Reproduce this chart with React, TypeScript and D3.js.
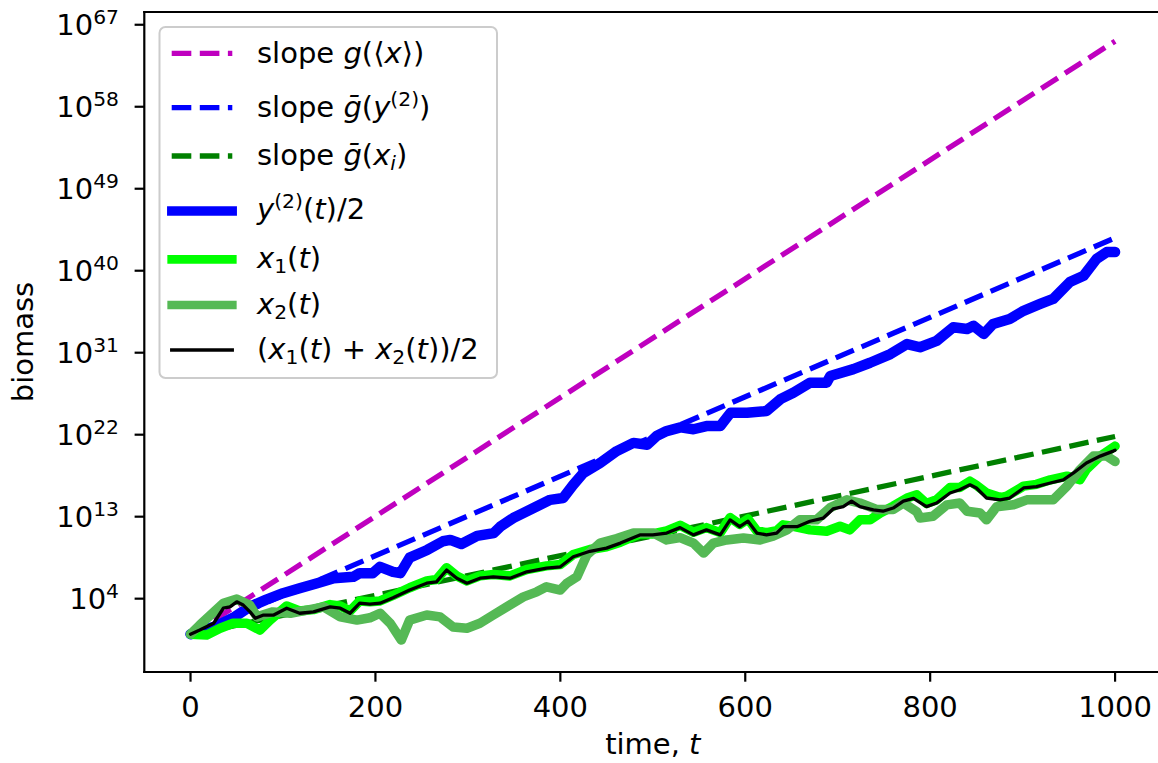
import React from "react";
import * as d3 from "d3";

// ---------- data (time t, exponent log10(biomass)) ----------
const slopeTime = [0, 1000];
const slopeG = [0, 65.2]; // slope g(<x>)
const slopeGbarY = [0, 43.6]; // slope gbar(y2)
const slopeGbarX = [0, 21.8]; // slope gbar(x_i)

const y2Time = [0, 28, 46, 64, 82, 100, 118, 137, 155, 176, 183, 197, 205, 219, 227, 237, 256, 273, 281, 293, 310, 328, 335, 349, 371, 389, 403, 414, 425, 443, 461, 479, 494, 504, 515, 530, 544, 558, 573, 584, 602, 623, 638, 652, 670, 688, 692, 717, 735, 757, 775, 789, 807, 825, 840, 847, 858, 868, 886, 901, 919, 933, 951, 966, 980, 991, 1000];
const y2Exp = [0.1, 1.0, 1.9, 3.1, 3.9, 4.6, 5.15, 5.7, 6.25, 6.4, 6.8, 6.8, 7.5, 6.95, 6.8, 8.5, 9.35, 10.3, 10.45, 10.0, 10.9, 11.2, 11.9, 12.85, 13.95, 14.85, 15.05, 16.5, 17.8, 18.9, 20.2, 21.1, 20.9, 21.85, 22.4, 22.8, 22.6, 22.95, 22.95, 24.4, 24.4, 24.6, 25.9, 26.6, 27.7, 27.7, 28.45, 29.2, 29.9, 30.85, 31.95, 31.6, 32.3, 33.8, 33.6, 33.95, 33.05, 34.15, 34.7, 35.6, 36.35, 36.9, 38.75, 39.45, 41.3, 42.05, 42.05];

const x1Time = [0, 17.5, 32, 46, 61, 75, 86, 97, 104, 118, 133, 151, 162, 172.5, 183, 194, 205, 219, 237, 255.5, 266, 277, 288, 299, 313, 327.5, 345.6, 363.7, 385, 400, 414, 432, 450, 465, 486, 500, 515, 529.5, 544, 558, 573, 583.6, 594, 603, 612.5, 623, 634, 641, 652, 670, 688, 702.5, 713, 724, 735, 746, 760, 775, 785.5, 796, 807, 821.5, 832, 843, 850, 861, 876, 883, 901, 915, 930, 948, 962, 969, 984, 1000];
const x1Exp = [0.1, 0.0, 0.75, 1.3, 1.3, 0.55, 1.65, 2.6, 3.2, 2.65, 2.8, 3.35, 3.2, 2.65, 3.75, 3.65, 3.75, 4.35, 5.2, 5.95, 6.1, 7.4, 6.5, 5.95, 6.5, 6.65, 6.5, 7.2, 7.6, 7.75, 8.85, 9.4, 9.7, 10.2, 11.1, 11.1, 11.45, 12.05, 11.3, 11.8, 11.25, 12.9, 12.15, 12.75, 11.45, 11.25, 11.45, 12.1, 11.95, 11.55, 11.4, 11.95, 11.55, 12.65, 12.65, 13.4, 14.15, 15.05, 15.4, 14.45, 14.85, 16.2, 16.2, 16.9, 16.45, 15.6, 15.1, 15.25, 16.35, 16.55, 17.05, 17.45, 17.05, 18.2, 19.65, 20.75];

const x2Time = [0, 10, 35.5, 50, 64, 72, 89, 108, 126, 144, 162, 180, 194, 205, 216, 228, 237, 255.5, 270, 284, 299, 313, 327.5, 342, 360, 374.5, 385, 400, 407, 418, 428.6, 443, 461, 479, 500.6, 515, 529.5, 544, 555, 565.5, 580, 598, 616, 630, 645, 659, 677, 692, 710, 724, 742, 760, 771, 785.5, 789, 803, 818, 832, 840, 854, 861, 872, 890, 904.5, 919, 933, 948, 962, 976.6, 991, 1000];
const x2Exp = [0.1, 1.1, 3.5, 3.95, 3.3, 2.0, 2.55, 2.4, 2.75, 3.1, 2.0, 1.65, 1.9, 2.4, 1.3, -0.55, 1.65, 2.2, 2.0, 0.9, 0.75, 1.3, 2.2, 3.1, 4.2, 4.75, 5.3, 4.95, 5.7, 6.4, 8.8, 10.1, 10.6, 11.2, 11.2, 10.45, 10.7, 10.1, 9.0, 10.1, 10.45, 10.65, 10.45, 10.85, 11.55, 12.65, 12.65, 14.0, 14.85, 14.5, 13.8, 13.8, 14.5, 13.55, 12.85, 13.05, 14.3, 14.5, 13.6, 13.4, 12.65, 14.1, 14.3, 14.85, 14.85, 14.85, 16.35, 18.15, 19.65, 19.65, 19.05];

const meanTime = [0, 10, 25, 35.5, 42.7, 50, 57, 64.4, 70, 79, 90, 104, 118, 133, 151, 162, 172.5, 183, 194, 205, 219, 237, 255.5, 266, 277, 288, 299, 313, 327.5, 345.6, 363.7, 385, 400, 414, 432, 450, 465, 486, 500, 515, 529.5, 544, 558, 573, 583.6, 594, 603, 612.5, 623, 634, 641, 656, 670, 684.5, 695, 706, 715, 724, 738.6, 749, 760, 771, 782, 796, 807, 821.5, 832, 843, 850, 861, 875.6, 886, 901, 915, 930, 944, 955, 969, 984, 998, 1000];
const meanExp = [0.1, 0.55, 1.3, 2.95, 3.1, 3.65, 3.3, 2.55, 1.85, 2.2, 2.2, 2.95, 2.4, 2.55, 3.1, 2.95, 2.4, 3.5, 3.4, 3.5, 4.1, 4.95, 5.7, 5.85, 7.15, 6.25, 5.7, 6.25, 6.4, 6.25, 6.95, 7.35, 7.5, 8.6, 9.2, 9.55, 10.1, 11.0, 11.0, 11.2, 11.8, 11.0, 11.55, 11.0, 12.65, 11.9, 12.5, 11.2, 11.0, 11.2, 11.9, 11.9, 12.5, 12.85, 13.85, 14.1, 14.7, 14.1, 13.75, 13.6, 13.95, 14.7, 15.0, 14.1, 14.5, 15.6, 15.95, 16.5, 16.15, 15.05, 14.85, 15.05, 16.15, 16.3, 16.7, 17.05, 17.8, 18.9, 19.65, 20.2, 20.3];

const xTicks = [0, 200, 400, 600, 800, 1000];
const yTickExps = [4, 13, 22, 31, 40, 49, 58, 67];

const FONT = "DejaVu Sans";

function zipSeries(ts: number[], es: number[]): [number, number][] {
  return ts.map((t, i) => [t, es[i]] as [number, number]);
}

export default function App() {
  const W = 1158, H = 763;
  const left = 144.3, right = 1161.3, top = 12, bottom = 672;
  const x = d3.scaleLinear().domain([-50, 1050]).range([left, right]);
  const y = d3.scaleLog().domain([Math.pow(10, -4.05), Math.pow(10, 68.4)]).range([bottom, top]);
  const line = d3
    .line<[number, number]>()
    .x((d) => x(d[0]))
    .y((d) => y(Math.pow(10, d[1])));

  const dashW = 5.3;
  const dash = `${3.7 * dashW} ${1.6 * dashW}`;

  const series = [
    { d: zipSeries(slopeTime, slopeG), color: "#bf00bf", w: dashW, dashed: true },
    { d: zipSeries(slopeTime, slopeGbarY), color: "#0000ff", w: dashW, dashed: true },
    { d: zipSeries(slopeTime, slopeGbarX), color: "#008000", w: dashW, dashed: true },
    { d: zipSeries(y2Time, y2Exp), color: "#0000ff", w: 10.5, dashed: false },
    { d: zipSeries(x1Time, x1Exp), color: "#00ff00", w: 9.5, dashed: false },
    { d: zipSeries(x2Time, x2Exp), color: "#55b955", w: 9.5, dashed: false },
    { d: zipSeries(meanTime, meanExp), color: "#000000", w: 3.3, dashed: false },
  ];
  const legendW = [dashW, dashW, dashW, 9.3, 8.7, 8.7, 3.3];

  const legendY = [53.3, 107.7, 156, 211, 259.3, 305, 350];
  const hx1 = 171.7, hx2 = 232.3;
  const it = { fontStyle: "italic" as const };
  const fs = 29;
  const sup = 20.3;

  const labels = [
    <text key="l0" x={257} y={63}>slope <tspan {...it}>g</tspan>(⟨<tspan {...it}>x</tspan>⟩)</text>,
    <text key="l1" x={257} y={117}>slope <tspan {...it}>ḡ</tspan>(<tspan {...it}>y</tspan><tspan dy={-11} fontSize={sup}>(2)</tspan><tspan dy={11}>)</tspan></text>,
    <text key="l2" x={257} y={165}>slope <tspan {...it}>ḡ</tspan>(<tspan {...it}>x</tspan><tspan dy={5} fontSize={sup} {...it}>i</tspan><tspan dy={-5}>)</tspan></text>,
    <text key="l3" x={257} y={219}><tspan {...it}>y</tspan><tspan dy={-11} fontSize={sup}>(2)</tspan><tspan dy={11}>(</tspan><tspan {...it}>t</tspan>)/2</text>,
    <text key="l4" x={257} y={268}><tspan {...it}>x</tspan><tspan dy={5} fontSize={sup}>1</tspan><tspan dy={-5}>(</tspan><tspan {...it}>t</tspan>)</text>,
    <text key="l5" x={257} y={314}><tspan {...it}>x</tspan><tspan dy={5} fontSize={sup}>2</tspan><tspan dy={-5}>(</tspan><tspan {...it}>t</tspan>)</text>,
    <text key="l6" x={257} y={359}>(<tspan {...it}>x</tspan><tspan dy={5} fontSize={sup}>1</tspan><tspan dy={-5}>(</tspan><tspan {...it}>t</tspan>){" + "}<tspan {...it}>x</tspan><tspan dy={5} fontSize={sup}>2</tspan><tspan dy={-5}>(</tspan><tspan {...it}>t</tspan>))/2</text>,
  ];

  return (
    <div style={{ position: "absolute", left: 0, top: 0 }}>
      <svg width={W} height={H} style={{ display: "block", background: "#fff" }} fontFamily={FONT}>
        <defs>
          <clipPath id="plotClip">
            <rect x={left} y={top} width={right - left} height={bottom - top} />
          </clipPath>
        </defs>
        <rect x={0} y={0} width={W} height={H} fill="#fff" />
        <g clipPath="url(#plotClip)">
          {series.map((s, i) => (
            <path
              key={i}
              d={line(s.d) || ""}
              fill="none"
              stroke={s.color}
              strokeWidth={s.w}
              strokeDasharray={s.dashed ? dash : undefined}
              strokeLinecap={s.dashed ? "butt" : "round"}
              strokeLinejoin="round"
            />
          ))}
        </g>
        {/* spines */}
        <g stroke="#000" strokeWidth={2.2} fill="none" strokeLinecap="square">
          <line x1={left} y1={top} x2={left} y2={bottom} />
          <line x1={left} y1={bottom} x2={right} y2={bottom} />
          <line x1={left} y1={top} x2={right} y2={top} />
          <line x1={right} y1={top} x2={right} y2={bottom} />
        </g>
        {/* x ticks */}
        {xTicks.map((t) => (
          <g key={"xt" + t}>
            <line x1={x(t)} x2={x(t)} y1={bottom} y2={bottom + 9.7} stroke="#000" strokeWidth={2.2} />
            <text x={x(t)} y={bottom + 45} textAnchor="middle" fontSize={fs}>{t}</text>
          </g>
        ))}
        {/* y ticks */}
        {yTickExps.map((e) => {
          const py = y(Math.pow(10, e));
          return (
            <g key={"yt" + e}>
              <line x1={left - 9.7} x2={left} y1={py} y2={py} stroke="#000" strokeWidth={2.2} />
              <text x={119} y={py + 10.5} textAnchor="end" fontSize={fs}>
                10<tspan dy={-11.5} fontSize={sup}>{e}</tspan>
              </text>
            </g>
          );
        })}
        <text x={(left + right) / 2} y={754} textAnchor="middle" fontSize={fs}>
          time, <tspan {...it}>t</tspan>
        </text>
        <text transform={`translate(33,${(top + bottom) / 2}) rotate(-90)`} textAnchor="middle" fontSize={fs}>
          biomass
        </text>
        {/* legend */}
        <rect x={159.5} y={27} width={337.5} height={351} rx={6} ry={6} fill="#fff" fillOpacity={0.8} stroke="#cccccc" strokeWidth={2} />
        {series.map((s, i) => (
          <line
            key={"lh" + i}
            x1={hx1}
            x2={hx2}
            y1={legendY[i]}
            y2={legendY[i]}
            stroke={s.color}
            strokeWidth={legendW[i]}
            strokeDasharray={s.dashed ? dash : undefined}
            strokeLinecap={s.dashed ? "butt" : "square"}
          />
        ))}
        <g fontSize={fs}>{labels}</g>
      </svg>
    </div>
  );
}
